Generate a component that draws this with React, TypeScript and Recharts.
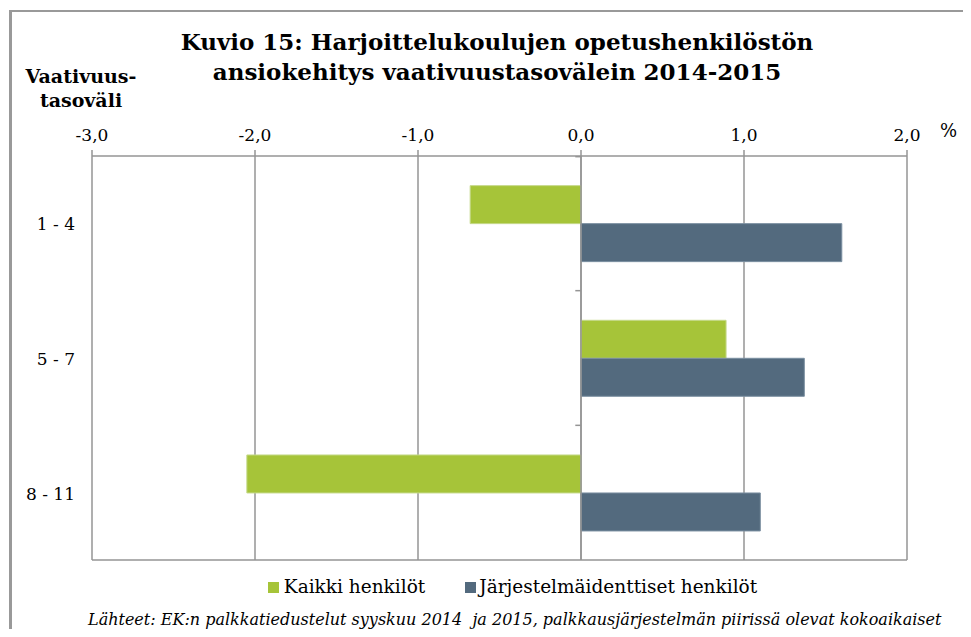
import React from "react"
import {
  BarChart,
  Bar,
  XAxis,
  YAxis,
  CartesianGrid,
  ReferenceLine,
} from "recharts"

// vaativuustasovälit
const categories = ["1 - 4", "5 - 7", "8 - 11"]
// ansiokehitys %, 2014-2015
const kaikki = [-0.68, 0.89, -2.05]
const jarjestelma = [1.6, 1.37, 1.1]
const xTicks = [-3, -2, -1, 0, 1, 2]
const boundaryTicks = [1, 2, 2.995]

const GREEN = "#a6c439"
const NAVY = "#536a7e"
const GRID = "#959595"
const FONT = "'DejaVu Serif', Georgia, serif"

const data = categories.map((name, i) => ({
  name,
  pos: i + 0.5,
  kaikki: kaikki[i],
  jarjestelma: jarjestelma[i],
}))

const fmt = (v: number) => v.toFixed(1).replace(".", ",")

const CategoryTick = (props: any) => {
  const { x, y, payload } = props
  return (
    <text
      x={x - 9}
      y={y + 1}
      textAnchor="end"
      dominantBaseline="central"
      fontSize={17}
      fontFamily={FONT}
      fill="#000"
    >
      {payload.value}
    </text>
  )
}

export default function App() {
  return (
    <div
      style={{
        position: "relative",
        margin: -8,
        width: 971,
        height: 637,
        overflow: "hidden",
        background: "#fff",
        fontFamily: FONT,
      }}
    >
      <div
        style={{
          position: "absolute",
          left: 0,
          width: 994,
          top: 27,
          textAlign: "center",
          fontWeight: "bold",
          fontSize: 23,
          lineHeight: "30px",
        }}
      >
        Kuvio 15: Harjoittelukoulujen opetushenkilöstön
        <br />
        ansiokehitys vaativuustasovälein 2014-2015
      </div>
      <div
        style={{
          position: "absolute",
          left: 11,
          width: 140,
          top: 64,
          textAlign: "center",
          fontWeight: "bold",
          fontSize: 19,
          lineHeight: "24px",
        }}
      >
        Vaativuus-
        <br />
        tasoväli
      </div>
      <div style={{ position: "absolute", left: 940, top: 120, fontSize: 18 }}>%</div>

      <div style={{ position: "absolute", left: 0, top: 0 }}>
        <BarChart
          width={971}
          height={637}
          data={data}
          layout="vertical"
          margin={{ top: 126, right: 64, bottom: 76, left: 0 }}
          barCategoryGap="22%"
          barGap={0}
        >
          <CartesianGrid vertical horizontal={false} stroke={GRID} strokeWidth={1.5} />
          <XAxis
            type="number"
            orientation="top"
            domain={[-3, 2]}
            ticks={xTicks}
            tickFormatter={fmt}
            height={30}
            stroke={GRID}
            strokeWidth={1.5}
            tickSize={6}
            tickMargin={9}
            tick={{ fill: "#000", fontSize: 17, fontFamily: FONT }}
          />
          <XAxis
            xAxisId="b"
            type="number"
            orientation="bottom"
            domain={[-3, 2]}
            ticks={xTicks}
            height={1}
            stroke={GRID}
            strokeWidth={1.5}
            tick={false}
            tickLine={false}
          />
          <YAxis
            type="category"
            dataKey="name"
            width={92}
            axisLine={false}
            tickLine={false}
            tick={<CategoryTick />}
          />
          <YAxis
            yAxisId="n"
            type="number"
            dataKey="pos"
            domain={[0, 3]}
            allowDataOverflow
            reversed
            hide
          />
          <ReferenceLine x={0} stroke={GRID} strokeWidth={1.5} />
          {boundaryTicks.map((t) => (
            <ReferenceLine
              key={t}
              yAxisId="n"
              ifOverflow="extendDomain"
              segment={[
                { x: -0.035, y: t },
                { x: 0, y: t },
              ]}
              stroke={GRID}
              strokeWidth={1.5}
            />
          ))}
          <Bar dataKey="kaikki" fill={GREEN} stroke="#c5d98a" strokeWidth={1} isAnimationActive={false} />
          <Bar dataKey="jarjestelma" fill={NAVY} stroke="#7b8fa1" strokeWidth={1} isAnimationActive={false} />
        </BarChart>
      </div>

      <div
        style={{
          position: "absolute",
          top: 575,
          left: 0,
          width: 1025,
          display: "flex",
          justifyContent: "center",
          fontSize: 18.5,
          lineHeight: "24px",
        }}
      >
        <span style={{ display: "flex", alignItems: "center", marginRight: 40 }}>
          <span style={{ width: 11, height: 11, background: GREEN, marginRight: 5 }} />
          Kaikki henkilöt
        </span>
        <span style={{ display: "flex", alignItems: "center" }}>
          <span style={{ width: 11, height: 11, background: NAVY, marginRight: 3 }} />
          Järjestelmäidenttiset henkilöt
        </span>
      </div>

      <div
        style={{
          position: "absolute",
          top: 610,
          left: 88,
          fontStyle: "italic",
          fontSize: 16,
          whiteSpace: "pre",
        }}
      >
        Lähteet: EK:n palkkatiedustelut syyskuu 2014  ja 2015, palkkausjärjestelmän piirissä olevat kokoaikaiset
      </div>

      {/* outer frame, only its top and left edges are in view */}
      <div style={{ position: "absolute", left: 9, top: 10, width: 1000, height: 2, background: "#999" }} />
      <div style={{ position: "absolute", left: 9, top: 10, width: 3, height: 700, background: "#999" }} />
    </div>
  )
}
